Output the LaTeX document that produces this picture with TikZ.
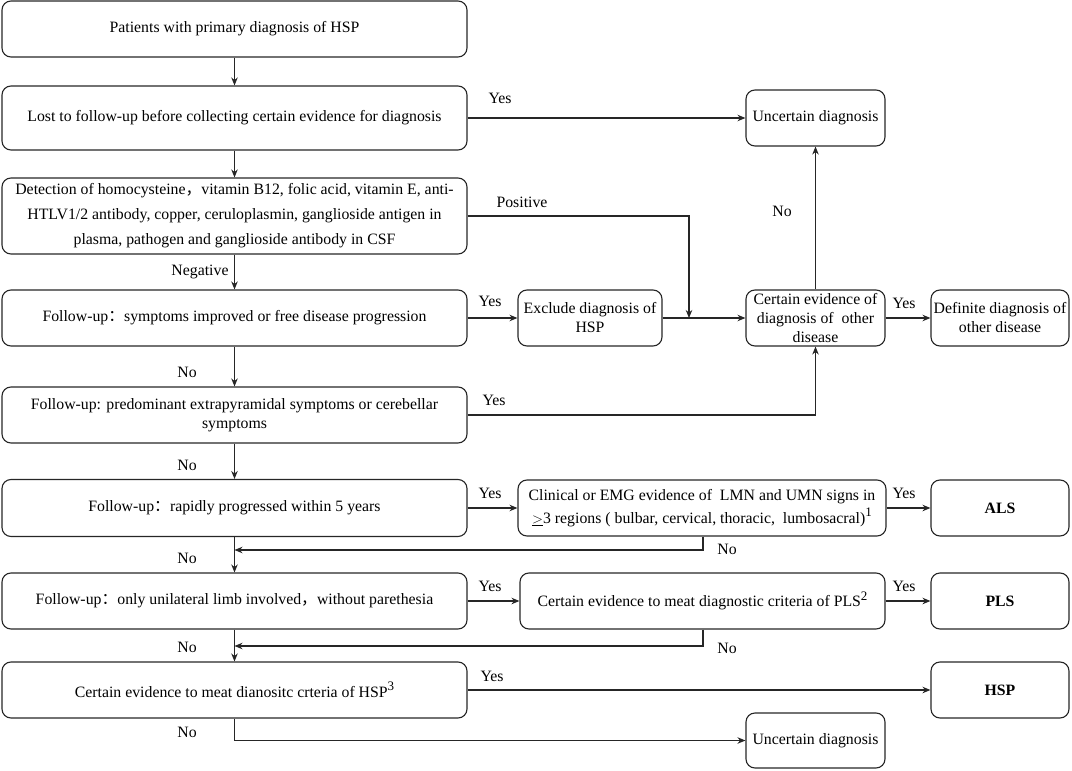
\documentclass[tikz,border=0pt]{standalone}
\usepackage{fontspec}
\setmainfont{Liberation Serif}
\newfontfamily\cjk{Noto Sans CJK SC}
\usetikzlibrary{arrows.meta}
\newcommand{\fw}[1]{{\cjk #1}}
\newcommand{\mysup}[1]{\raisebox{6.5pt}{\fontsize{13}{13}\selectfont #1}}
\begin{document}
\begin{tikzpicture}[x=1pt,y=-1pt,
 box/.style={draw=black!85, line width=1.1pt, rounded corners=9pt, align=center, inner sep=0pt, font=\fontsize{15.8}{19}\selectfont},
 arr/.style={draw=black!85, line width=1.1pt, -{Stealth[length=8pt,width=6.5pt]}},
 lab/.style={font=\fontsize{15.8}{19}\selectfont, inner sep=0pt}]
\useasboundingbox (0,0) rectangle (1072,771);
% left column
\node[box, minimum width=465pt, minimum height=56pt] (A) at (234.5,29) {Patients with primary diagnosis of HSP};
\node[box, minimum width=465pt, minimum height=64pt] (B) at (234.5,118) {Lost to follow-up before collecting certain evidence for diagnosis};
\node[box, minimum width=465pt, minimum height=76pt, font=\fontsize{15.8}{25}\selectfont] (C) at (234.5,216) {Detection of homocysteine\fw{，}vitamin B12, folic acid, vitamin E, anti-\\HTLV1/2 antibody, copper, ceruloplasmin, ganglioside antigen in\\plasma, pathogen and ganglioside antibody in CSF};
\node[box, minimum width=465pt, minimum height=56pt] (D) at (234.5,318) {Follow-up\fw{：}symptoms improved or free disease progression};
\node[box, minimum width=465pt, minimum height=56pt] (E) at (234.5,415) {Follow-up: predominant extrapyramidal symptoms or cerebellar\\symptoms};
\node[box, minimum width=465pt, minimum height=57pt] (F) at (234.5,508) {Follow-up\fw{：}rapidly progressed within 5 years};
\node[box, minimum width=465pt, minimum height=56pt] (G) at (234.5,601) {Follow-up\fw{：}only unilateral limb involved\fw{，}without parethesia};
\node[box, minimum width=465pt, minimum height=56pt] (H) at (234.5,690) {Certain evidence to meat dianositc crteria of HSP\mysup{3}};
% right side
\node[box, minimum width=139pt, minimum height=56pt] (U1) at (815.5,118) {Uncertain diagnosis};
\node[box, minimum width=144pt, minimum height=56pt] (X) at (590,318) {Exclude diagnosis of\\HSP};
\node[box, minimum width=139pt, minimum height=56pt] (CE) at (815.5,318) {Certain evidence of\\diagnosis of\ \ other\\disease};
\node[box, minimum width=138pt, minimum height=56pt] (DD) at (1000,318) {Definite diagnosis of\\other disease};
\node[box, minimum width=368pt, minimum height=56pt, font=\fontsize{15.8}{23}\selectfont] (CL) at (702,508) {Clinical or EMG evidence of\ \ LMN and UMN signs in\\$\underline{>}$3 regions ( bulbar, cervical, thoracic,\ \ lumbosacral)\mysup{1}};
\node[box, minimum width=138pt, minimum height=56pt, font=\fontsize{15.8}{19}\selectfont\bfseries] (ALS) at (1000,508) {ALS};
\node[box, minimum width=365pt, minimum height=56pt] (PE) at (702.5,601) {Certain evidence to meat diagnostic criteria of PLS\mysup{2}};
\node[box, minimum width=138pt, minimum height=56pt, font=\fontsize{15.8}{19}\selectfont\bfseries] (PLS) at (1000,601) {PLS};
\node[box, minimum width=138pt, minimum height=56pt, font=\fontsize{15.8}{19}\selectfont\bfseries] (HSP) at (1000,690) {HSP};
\node[box, minimum width=139pt, minimum height=55pt] (U2) at (815.5,740.5) {Uncertain diagnosis};
% coordinates
\coordinate (p2) at (689,318);
\coordinate (c1) at (703,550);
\coordinate (c2) at (234.5,550);
\coordinate (q1) at (703,646);
\coordinate (q2) at (234.5,646);
% connectors
\draw[arr] (A) -- (B);
\draw[arr] (B) -- (U1);
\draw[arr] (B) -- (C);
\draw[arr] (C) -- (D);
\draw[arr] (C.east) -| (p2);
\draw[arr] (D) -- (X);
\draw[arr] (X) -- (CE);
\draw[arr] (CE) -- (U1);
\draw[arr] (CE) -- (DD);
\draw[arr] (D) -- (E);
\draw[arr] (E.east) -| (CE.south);
\draw[arr] (E) -- (F);
\draw[arr] (F) -- (CL);
\draw[arr] (CL) -- (ALS);
\draw[arr] (CL.south -| c1) -- (c1) -- (c2);
\draw[arr] (F) -- (G);
\draw[arr] (G) -- (PE);
\draw[arr] (PE) -- (PLS);
\draw[arr] (PE.south -| q1) -- (q1) -- (q2);
\draw[arr] (G) -- (H);
\draw[arr] (H) -- (HSP);
\draw[arr] (H.south) |- (U2.west);
% labels
\node[lab] (l1) at (500,98) {Yes};
\node[lab] (l2) at (200,272) {Negative};
\node[lab] (l3) at (522,202) {Positive};
\node[lab] (l4) at (490,301) {Yes};
\node[lab] (l5) at (782,211) {No};
\node[lab] (l6) at (904,303) {Yes};
\node[lab] (l7) at (187,372) {No};
\node[lab] (l8) at (494,400) {Yes};
\node[lab] (l9) at (187,465) {No};
\node[lab] (l10) at (490,493) {Yes};
\node[lab] (l11) at (904,493) {Yes};
\node[lab] (l12) at (727,549) {No};
\node[lab] (l13) at (187,558) {No};
\node[lab] (l14) at (490,586) {Yes};
\node[lab] (l15) at (904,586) {Yes};
\node[lab] (l16) at (727,648) {No};
\node[lab] (l17) at (187,647) {No};
\node[lab] (l18) at (492,676) {Yes};
\node[lab] (l19) at (187,732) {No};
\end{tikzpicture}
\end{document}
